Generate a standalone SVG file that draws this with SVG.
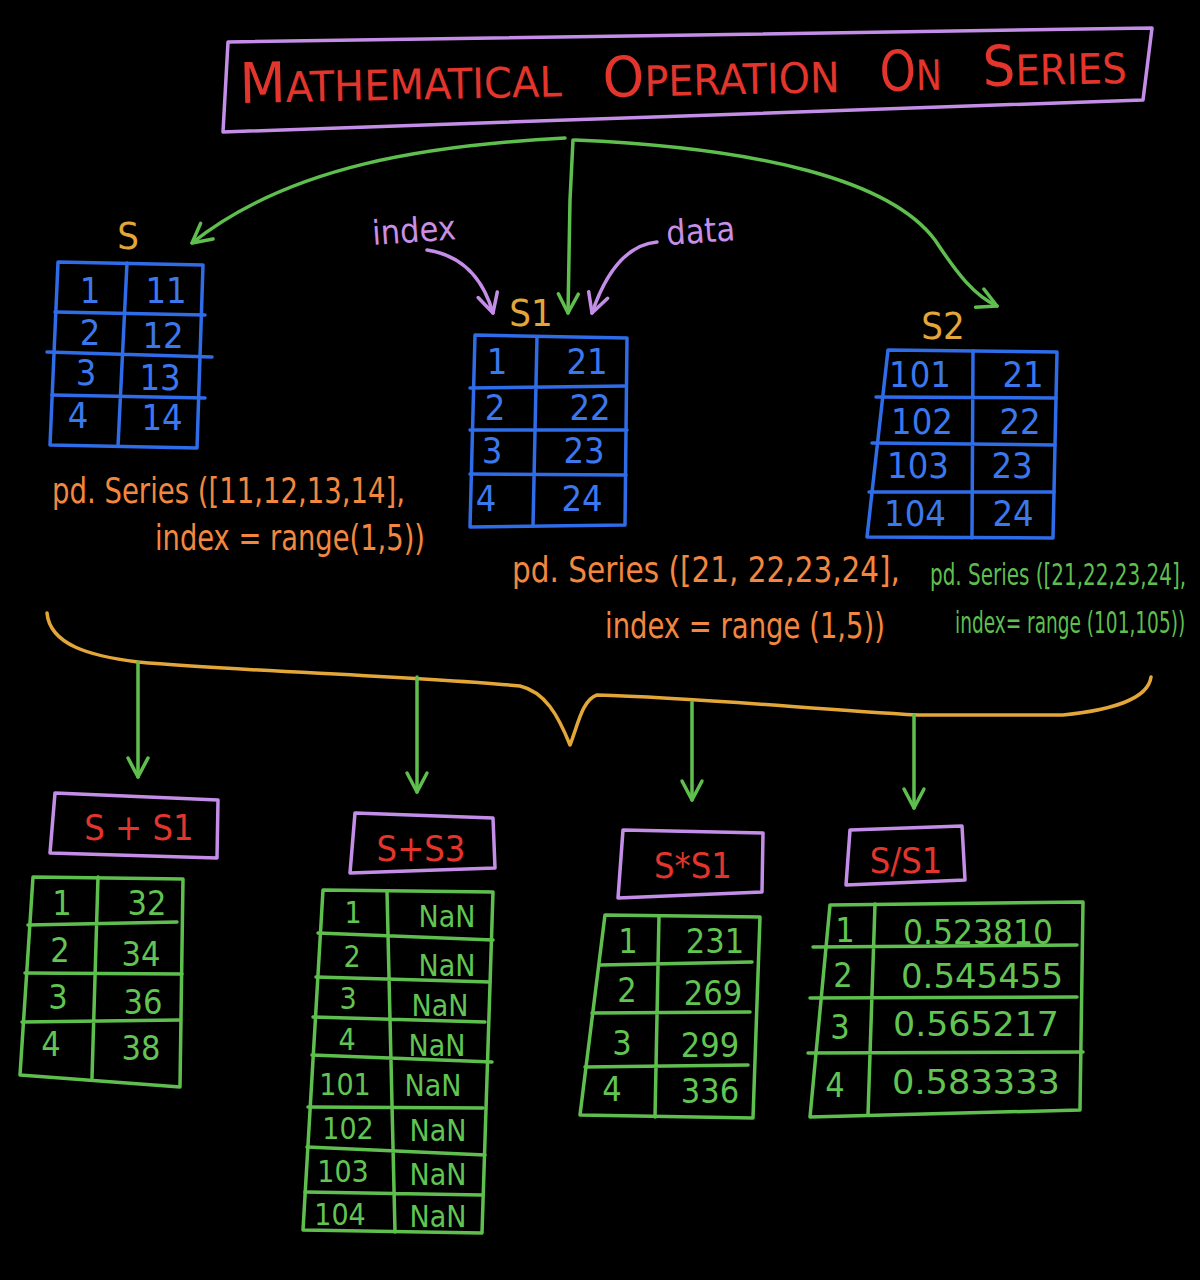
<svg xmlns="http://www.w3.org/2000/svg" width="1200" height="1280" viewBox="0 0 1200 1280">
<defs>
<style>
.bg{fill:#000}
.ln{fill:none;stroke-width:3.5;stroke-linecap:round;stroke-linejoin:round}
.blue{stroke:#2e6ce8}
.green{stroke:#5fbf4e}
.purple{stroke:#c48ee8}
.yellow{stroke:#e3a638}
.t{font-family:"DejaVu Sans Condensed","Liberation Sans",sans-serif}
.tb{fill:#3b78ee;font-size:36px;text-anchor:middle}
.tg{fill:#62c452;font-size:34px;text-anchor:middle}
.tr{fill:#e3352b;font-size:36px;text-anchor:middle}
.ty{fill:#e3a638;font-size:38px;text-anchor:middle}
.to{fill:#f3873f;font-size:36px}
.tgc{fill:#5fbf4e;font-size:30px}
.tp{fill:#c98fe6;font-size:34px}
.title{fill:#e3352b}
</style>
<marker id="ahg" markerUnits="userSpaceOnUse" viewBox="0 0 26 26" markerWidth="26" markerHeight="26" refX="22" refY="13" orient="auto">
<path d="M3,3 L22,13 L3,23" fill="none" stroke="#5fbf4e" stroke-width="3.5" stroke-linecap="round" stroke-linejoin="round"/>
</marker>
<marker id="ahp" markerUnits="userSpaceOnUse" viewBox="0 0 26 26" markerWidth="26" markerHeight="26" refX="22" refY="13" orient="auto">
<path d="M3,3 L22,13 L3,23" fill="none" stroke="#c48ee8" stroke-width="3.5" stroke-linecap="round" stroke-linejoin="round"/>
</marker>
</defs>
<rect class="bg" x="0" y="0" width="1200" height="1280"/>

<g id="title">
<polygon class="ln purple" points="228,42 1152,28 1143,100 223,132"/>
<text class="t title" x="240" y="103" textLength="322" lengthAdjust="spacingAndGlyphs" transform="rotate(-1.2 240 103)"><tspan font-size="56">M</tspan><tspan font-size="42">ATHEMATICAL</tspan></text>
<text class="t title" x="603" y="97" textLength="237" lengthAdjust="spacingAndGlyphs" transform="rotate(-1.2 603 97)"><tspan font-size="56">O</tspan><tspan font-size="42">PERATION</tspan></text>
<text class="t title" x="880" y="91" textLength="62" lengthAdjust="spacingAndGlyphs" transform="rotate(-1.2 880 91)"><tspan font-size="56">O</tspan><tspan font-size="42">N</tspan></text>
<text class="t title" x="983" y="86" textLength="144" lengthAdjust="spacingAndGlyphs" transform="rotate(-1.2 983 86)"><tspan font-size="56">S</tspan><tspan font-size="42">ERIES</tspan></text>
</g>

<g id="connectors">
<path class="ln green" d="M565,138 C 430,145 290,165 192,243" marker-end="url(#ahg)"/>
<path class="ln green" d="M573,140 L 570,200 L 568,313" marker-end="url(#ahg)"/>
<path class="ln green" d="M575,140 C 760,148 890,180 935,240 C 958,275 975,296 997,306" marker-end="url(#ahg)"/>
<path class="ln purple" d="M427,250 C 460,255 482,275 493,313" marker-end="url(#ahp)"/>
<path class="ln purple" d="M657,242 C 625,245 605,275 592,313" marker-end="url(#ahp)"/>
<path class="ln yellow" d="M47,613 C 50,645 90,656 138,662 C 250,672 400,675 520,686 C 545,692 558,715 570,745 C 578,725 582,700 597,695 C 700,698 800,708 918,715 L 1063,715 C 1110,710 1148,700 1151,677"/>
<path class="ln green" d="M138,662 L 138,777" marker-end="url(#ahg)"/>
<path class="ln green" d="M417,677 L 417,792" marker-end="url(#ahg)"/>
<path class="ln green" d="M692,702 L 692,800" marker-end="url(#ahg)"/>
<path class="ln green" d="M914,715 L 914,808" marker-end="url(#ahg)"/>
</g>

<g id="label-index"><text class="t tp" x="373" y="245" transform="rotate(-4 373 245)">index</text></g>
<g id="label-data"><text class="t tp" x="667" y="245" transform="rotate(-4 667 245)">data</text></g>

<g id="series-s">
<text class="t ty" x="128" y="249">S</text>
<polygon class="ln blue" points="58,262 203,265 197,448 50,445"/>
<path class="ln blue" d="M127,263 L118,446 M55,312 L205,315 M47,352 L212,357 M52,395 L205,398"/>
<text class="t tb" x="90" y="303">1</text><text class="t tb" x="166" y="303">11</text>
<text class="t tb" x="90" y="345">2</text><text class="t tb" x="163" y="348">12</text>
<text class="t tb" x="86" y="385">3</text><text class="t tb" x="160" y="390">13</text>
<text class="t tb" x="78" y="428">4</text><text class="t tb" x="162" y="430">14</text>
<text class="t to" x="52" y="503" textLength="353" lengthAdjust="spacingAndGlyphs">pd. Series ([11,12,13,14],</text>
<text class="t to" x="155" y="550" textLength="270" lengthAdjust="spacingAndGlyphs">index = range(1,5))</text>
</g>

<g id="series-s1">
<text class="t ty" x="531" y="326">S1</text>
<polygon class="ln blue" points="475,335 627,338 625,525 470,527"/>
<path class="ln blue" d="M537,337 L533,526 M470,388 L626,386 M470,430 L627,430 M470,474 L626,475"/>
<text class="t tb" x="497" y="374">1</text><text class="t tb" x="587" y="374">21</text>
<text class="t tb" x="495" y="420">2</text><text class="t tb" x="590" y="420">22</text>
<text class="t tb" x="492" y="463">3</text><text class="t tb" x="584" y="463">23</text>
<text class="t tb" x="486" y="511">4</text><text class="t tb" x="582" y="511">24</text>
<text class="t to" x="512" y="582" textLength="388" lengthAdjust="spacingAndGlyphs">pd. Series ([21, 22,23,24],</text>
<text class="t to" x="605" y="638" textLength="280" lengthAdjust="spacingAndGlyphs">index = range (1,5))</text>
</g>

<g id="series-s2">
<text class="t ty" x="943" y="339">S2</text>
<polygon class="ln blue" points="888,350 1057,352 1053,538 867,537"/>
<path class="ln blue" d="M973,351 L972,538 M876,397 L1056,398 M872,443 L1055,445 M869,492 L1054,492"/>
<text class="t tb" x="920" y="387">101</text><text class="t tb" x="1023" y="387">21</text>
<text class="t tb" x="922" y="434">102</text><text class="t tb" x="1020" y="434">22</text>
<text class="t tb" x="918" y="478">103</text><text class="t tb" x="1012" y="478">23</text>
<text class="t tb" x="915" y="526">104</text><text class="t tb" x="1013" y="526">24</text>
<text class="t tgc" x="0" y="0" transform="translate(930 585) scale(0.74 1)" textLength="346" lengthAdjust="spacingAndGlyphs">pd. Series ([21,22,23,24],</text>
<text class="t tgc" x="0" y="0" transform="translate(955 633) scale(0.685 1)" textLength="336" lengthAdjust="spacingAndGlyphs">index= range (101,105))</text>
</g>

<g id="result-add">
<polygon class="ln purple" points="55,793 218,800 217,858 50,853"/>
<text class="t tr" x="139" y="840">S + S1</text>
<polygon class="ln green" points="33,877 183,879 180,1087 20,1075"/>
<path class="ln green" d="M98,877 L92,1078 M28,925 L177,922 M25,973 L182,974 M22,1022 L180,1020"/>
<text class="t tg" x="62" y="915">1</text><text class="t tg" x="147" y="915">32</text>
<text class="t tg" x="60" y="962">2</text><text class="t tg" x="141" y="966">34</text>
<text class="t tg" x="58" y="1009">3</text><text class="t tg" x="143" y="1014">36</text>
<text class="t tg" x="51" y="1056">4</text><text class="t tg" x="141" y="1060">38</text>
</g>

<g id="result-add3">
<polygon class="ln purple" points="355,813 493,818 495,868 350,873"/>
<text class="t tr" x="421" y="861">S+S3</text>
<polygon class="ln green" points="323,890 493,892 482,1233 303,1230"/>
<path class="ln green" d="M387,891 L395,1232 M318,933 L493,940 M316,977 L490,982 M313,1017 L485,1022 M312,1055 L492,1062 M308,1107 L483,1108 M307,1147 L485,1155 M305,1192 L482,1195"/>
<g class="t tg" style="font-size:30px">
<text x="353" y="923">1</text><text x="447" y="927">NaN</text>
<text x="352" y="967">2</text><text x="447" y="976">NaN</text>
<text x="348" y="1009">3</text><text x="440" y="1016">NaN</text>
<text x="347" y="1050">4</text><text x="437" y="1056">NaN</text>
<text x="345" y="1095">101</text><text x="433" y="1096">NaN</text>
<text x="348" y="1139">102</text><text x="438" y="1141">NaN</text>
<text x="343" y="1182">103</text><text x="438" y="1185">NaN</text>
<text x="340" y="1225">104</text><text x="438" y="1227">NaN</text>
</g>
</g>

<g id="result-mul">
<polygon class="ln purple" points="623,830 763,833 762,892 618,898"/>
<text class="t tr" x="693" y="878">S*S1</text>
<polygon class="ln green" points="605,915 760,917 753,1118 580,1115"/>
<path class="ln green" d="M659,916 L655,1117 M600,965 L752,962 M592,1013 L750,1012 M585,1067 L748,1065"/>
<text class="t tg" x="628" y="953">1</text><text class="t tg" x="715" y="953">231</text>
<text class="t tg" x="627" y="1002">2</text><text class="t tg" x="713" y="1005">269</text>
<text class="t tg" x="622" y="1055">3</text><text class="t tg" x="710" y="1057">299</text>
<text class="t tg" x="612" y="1101">4</text><text class="t tg" x="710" y="1103">336</text>
</g>

<g id="result-div">
<polygon class="ln purple" points="850,830 962,826 965,880 846,885"/>
<text class="t tr" x="906" y="873">S/S1</text>
<polygon class="ln green" points="830,905 1083,902 1080,1110 810,1117"/>
<path class="ln green" d="M875,904 L868,1115 M813,947 L1077,945 M810,998 L1077,997 M808,1053 L1083,1052"/>
<text class="t tg" x="845" y="942">1</text><text class="t tg" x="978" y="944" textLength="150" lengthAdjust="spacingAndGlyphs">0.523810</text>
<text class="t tg" x="843" y="987">2</text><text class="t tg" x="982" y="988" textLength="162" lengthAdjust="spacingAndGlyphs">0.545455</text>
<text class="t tg" x="840" y="1039">3</text><text class="t tg" x="976" y="1036" textLength="166" lengthAdjust="spacingAndGlyphs">0.565217</text>
<text class="t tg" x="835" y="1097">4</text><text class="t tg" x="976" y="1094" textLength="168" lengthAdjust="spacingAndGlyphs">0.583333</text>
</g>
</svg>
